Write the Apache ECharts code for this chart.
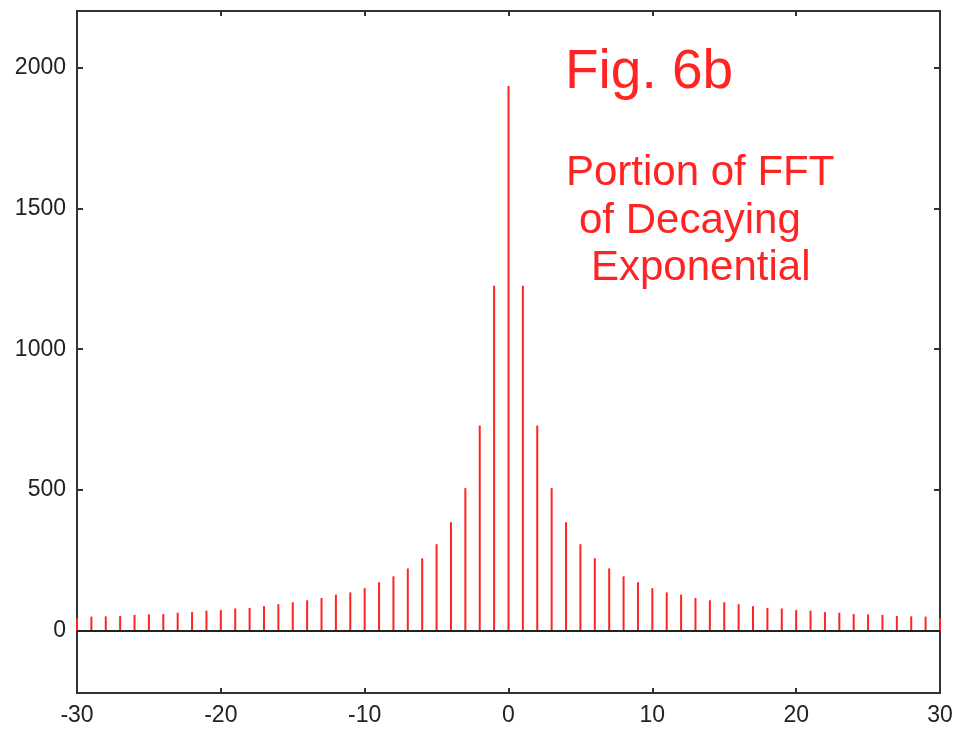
<!DOCTYPE html>
<html>
<head>
<meta charset="utf-8">
<script src="https://cdn.jsdelivr.net/npm/echarts@6/dist/echarts.min.js"></script>
<style>html,body{margin:0;padding:0;background:#fff}#chart{width:956px;height:730px}</style>
</head>
<body>
<div id="chart"></div>
<script>
// Harmonic index k (-30..30)
var harmonics = [];
for (var i = -30; i <= 30; i++) harmonics.push(i);
// Magnitudes (k = -30 .. 30)
var magnitudes = [
  45, 51, 52, 53, 57, 59, 60, 65, 67, 72, 74, 80, 82, 88, 95, 102, 109, 117, 129, 137, 152,
  173, 194, 222, 258, 308, 386, 507, 729, 1225,
  1934,
  1225, 729, 507, 386, 308, 258, 222, 194, 173,
  152, 137, 129, 117, 109, 102, 95, 88, 82, 80, 74, 72, 67, 65, 60, 59, 57, 53, 52, 51, 45
];
var yTicks = [0, 500, 1000, 1500, 2000];
var xTickLabels = [-30, -20, -10, 0, 10, 20, 30];
var annotationTitle = 'Fig. 6b';
var annotationLines = ['Portion of FFT', 'of Decaying', 'Exponential'];

var stems = harmonics.map(function (k, i) { return [k, magnitudes[i]]; });

var red = '#ff2424';
var frame = '#333';
var chart = echarts.init(document.getElementById('chart'));
var labelStyle = { color: '#222', fontSize: 23, fontFamily: 'Liberation Sans, Arial, sans-serif' };
var plain = function (v) { return String(v); };

chart.setOption({
  animation: false,
  backgroundColor: '#fff',
  grid: { left: 77, right: 16, top: 11, bottom: 37, show: true, borderColor: frame, borderWidth: 2, backgroundColor: 'transparent' },
  xAxis: [
    { type: 'value', min: -30, max: 30, interval: 10, position: 'bottom',
      axisLine: { show: true, onZero: false, lineStyle: { color: frame, width: 2 } },
      axisTick: { show: true, inside: true, length: 5, lineStyle: { color: frame, width: 2 } },
      axisLabel: Object.assign({ margin: 11, customValues: xTickLabels, formatter: plain }, labelStyle),
      splitLine: { show: false } },
    { type: 'value', min: -30, max: 30, interval: 10, position: 'top',
      axisLine: { show: true, onZero: false, lineStyle: { color: frame, width: 2 } },
      axisTick: { show: true, inside: true, length: 5, lineStyle: { color: frame, width: 2 } },
      axisLabel: { show: false }, splitLine: { show: false } }
  ],
  yAxis: [
    { type: 'value', min: -220, max: 2200, position: 'left',
      axisLine: { show: true, onZero: false, lineStyle: { color: frame, width: 2 } },
      axisTick: { show: true, inside: true, length: 6, customValues: yTicks, lineStyle: { color: frame, width: 2 } },
      axisLabel: Object.assign({ margin: 11, customValues: yTicks, formatter: plain }, labelStyle),
      splitLine: { show: false } },
    { type: 'value', min: -220, max: 2200, position: 'right',
      axisLine: { show: true, onZero: false, lineStyle: { color: frame, width: 2 } },
      axisTick: { show: true, inside: true, length: 6, customValues: yTicks, lineStyle: { color: frame, width: 2 } },
      axisLabel: { show: false }, splitLine: { show: false } }
  ],
  series: [{
    type: 'bar',
    xAxisIndex: 0, yAxisIndex: 0,
    data: stems,
    barWidth: 2,
    itemStyle: { color: red },
    markLine: {
      silent: true, symbol: 'none', animation: false,
      label: { show: false },
      lineStyle: { color: '#222', width: 2, type: 'solid' },
      data: [{ yAxis: 0 }]
    }
  }],
  graphic: [
    { type: 'text', left: 565, top: 45, style: { text: annotationTitle, fill: red, font: '55px "Liberation Sans", Arial, sans-serif' } },
    { type: 'text', left: 566, top: 152, style: { text: annotationLines[0], fill: red, font: '42px "Liberation Sans", Arial, sans-serif' } },
    { type: 'text', left: 579, top: 200, style: { text: annotationLines[1], fill: red, font: '42px "Liberation Sans", Arial, sans-serif' } },
    { type: 'text', left: 591, top: 247, style: { text: annotationLines[2], fill: red, font: '42px "Liberation Sans", Arial, sans-serif' } }
  ]
});
</script>
</body>
</html>
